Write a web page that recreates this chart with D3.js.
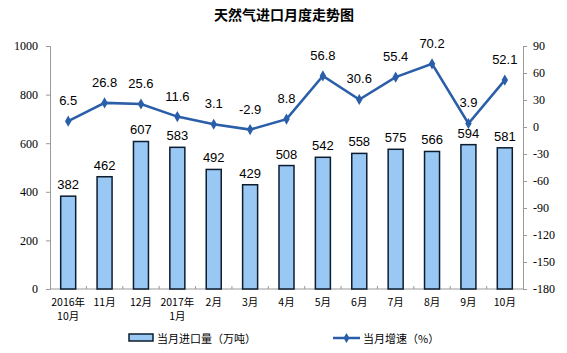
<!DOCTYPE html>
<html>
<head>
<meta charset="utf-8">
<script src="https://cdn.jsdelivr.net/npm/d3@7"></script>
<style>
  body { margin: 0; background: #fff; }
  svg { display: block; }
</style>
</head>
<body>
<svg id="chart" width="567" height="353"></svg>
<script>
var months = ['2016年|10月', '11月', '12月', '2017年|1月', '2月', '3月', '4月', '5月', '6月', '7月', '8月', '9月', '10月'];
var imports = [382, 462, 607, 583, 492, 429, 508, 542, 558, 575, 566, 594, 581];
var growth = [6.5, 26.8, 25.6, 11.6, 3.1, -2.9, 8.8, 56.8, 30.6, 55.4, 70.2, 3.9, 52.1];
var leftTicks = [0, 200, 400, 600, 800, 1000];
var rightTicks = [90, 60, 30, 0, -30, -60, -90, -120, -150, -180];

var margin = { top: 46, right: 44, bottom: 64, left: 50 },
  width = 567 - margin.left - margin.right,
  height = 353 - margin.top - margin.bottom;

var svg = d3.select("#chart")
  .append("g")
  .attr("transform", "translate(" + margin.left + "," + margin.top + ")");

// title
d3.select("#chart").append("text")
  .attr("x", 284).attr("y", 20)
  .attr("text-anchor", "middle")
  .style("font-family", "'Noto Sans CJK SC', sans-serif")
  .style("font-weight", "bold")
  .style("font-size", "14px")
  .text("天然气进口月度走势图");

var x = d3.scaleBand().domain(months).range([0, width]);
var y = d3.scaleLinear().domain([0, 1000]).range([height, 0]);
var y2 = d3.scaleLinear().domain([-180, 90]).range([height, 0]);

var axisColor = "#999";
var serif = "'Liberation Serif', 'Times New Roman', serif";

// left axis
var gl = svg.append("g").call(d3.axisLeft(y).tickValues(leftTicks).tickFormat(String).tickSize(4).tickPadding(8));
gl.select(".domain").attr("stroke", axisColor);
gl.selectAll(".tick line").attr("stroke", axisColor);
gl.selectAll("text").style("font-family", serif).style("font-size", "12px").attr("fill", "#000");

// right axis
var gr = svg.append("g").attr("transform", "translate(" + width + ",0)")
  .call(d3.axisRight(y2).tickValues(rightTicks).tickFormat(String).tickSize(4).tickPadding(6));
gr.select(".domain").attr("stroke", axisColor);
gr.selectAll(".tick line").attr("stroke", axisColor);
gr.selectAll("text").style("font-family", serif).style("font-size", "12px").attr("fill", "#000");

// bottom axis: line and ticks between categories
svg.append("line")
  .attr("x1", 0).attr("x2", width)
  .attr("y1", height).attr("y2", height)
  .attr("stroke", axisColor);
svg.selectAll(".xtick")
  .data(months.slice(1))
  .enter().append("line")
  .attr("x1", function (d) { return x(d); })
  .attr("x2", function (d) { return x(d); })
  .attr("y1", height).attr("y2", height - 3)
  .attr("stroke", axisColor);

// x labels
var xl = svg.selectAll(".xlab")
  .data(months)
  .enter().append("text")
  .attr("text-anchor", "middle")
  .attr("transform", function (d) { return "translate(" + (x(d) + x.bandwidth() / 2) + "," + (height + 17) + ")"; })
  .style("font-family", "'Noto Sans CJK SC', sans-serif")
  .style("font-size", "10.5px");
xl.selectAll("tspan")
  .data(function (d) { return d.split("|"); })
  .enter().append("tspan")
  .attr("x", 0)
  .attr("dy", function (d, i) { return i === 0 ? 0 : 14; })
  .text(function (d) { return d; });

// bars
var barW = 15;
svg.selectAll(".bar")
  .data(imports)
  .enter().append("rect")
  .attr("x", function (d, i) { return x(months[i]) + x.bandwidth() / 2 - barW / 2; })
  .attr("y", function (d) { return y(d); })
  .attr("width", barW)
  .attr("height", function (d) { return height - y(d); })
  .attr("fill", "#99c8f4")
  .attr("stroke", "#0d1c2e")
  .attr("stroke-width", 1.5);

svg.selectAll(".blab")
  .data(imports)
  .enter().append("text")
  .attr("x", function (d, i) { return x(months[i]) + x.bandwidth() / 2; })
  .attr("y", function (d) { return y(d) - 7; })
  .attr("text-anchor", "middle")
  .style("font-family", "'Liberation Sans', Arial, sans-serif")
  .style("font-size", "13px")
  .text(function (d) { return d; });

// line
var lineColor = "#2a5ea8";
var line = d3.line()
  .x(function (d, i) { return x(months[i]) + x.bandwidth() / 2; })
  .y(function (d) { return y2(d); });
svg.append("path")
  .datum(growth)
  .attr("d", line)
  .attr("fill", "none")
  .attr("stroke", lineColor)
  .attr("stroke-width", 2.5);

svg.selectAll(".pt")
  .data(growth)
  .enter().append("path")
  .attr("d", d3.symbol().type(d3.symbolDiamond).size(36))
  .attr("transform", function (d, i) { return "translate(" + (x(months[i]) + x.bandwidth() / 2) + "," + y2(d) + ")"; })
  .attr("fill", lineColor);

svg.selectAll(".glab")
  .data(growth)
  .enter().append("text")
  .attr("x", function (d, i) { return x(months[i]) + x.bandwidth() / 2; })
  .attr("y", function (d) { return y2(d) - 16; })
  .attr("text-anchor", "middle")
  .style("font-family", "'Liberation Sans', Arial, sans-serif")
  .style("font-size", "13px")
  .text(function (d) { return d; });

// legend
var lg = d3.select("#chart").append("g").attr("transform", "translate(0,338)");
lg.append("rect")
  .attr("x", 129).attr("y", -4).attr("width", 24).attr("height", 7)
  .attr("fill", "#99c8f4").attr("stroke", "#0d1c2e").attr("stroke-width", 1.5);
lg.append("text")
  .attr("x", 157).attr("y", 5)
  .style("font-family", "'Noto Sans CJK SC', sans-serif")
  .style("font-size", "11px")
  .text("当月进口量（万吨）");
lg.append("line")
  .attr("x1", 333).attr("x2", 360).attr("y1", 0).attr("y2", 0)
  .attr("stroke", lineColor).attr("stroke-width", 2.5);
lg.append("path")
  .attr("d", d3.symbol().type(d3.symbolDiamond).size(30))
  .attr("transform", "translate(346.5,0)")
  .attr("fill", lineColor);
lg.append("text")
  .attr("x", 363).attr("y", 5)
  .style("font-family", "'Noto Sans CJK SC', sans-serif")
  .style("font-size", "11px")
  .text("当月增速（%）");
</script>
</body>
</html>
